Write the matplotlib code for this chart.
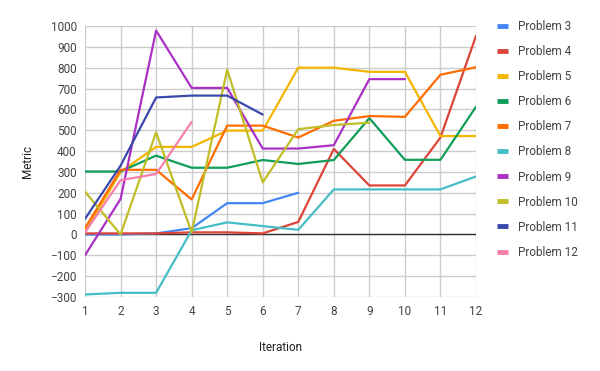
import matplotlib
matplotlib.use("Agg")
import matplotlib.pyplot as plt
import numpy as np

plt.rcParams['font.family'] = ['Roboto', 'DejaVu Sans']

iterations = list(range(1, 13))

# metric per problem, one value per iteration (None = no data)
problem_3 = [0, 0, 5, 30, 150, 150, 200]
problem_4 = [5, 5, 5, 10, 10, 5, 60, 410, 235, 235, 465, 952]
problem_5 = [10, 300, 420, 420, 498, 498, 800, 800, 780, 780, 472, 472]
problem_6 = [302, 302, 378, 320, 320, 357, 338, 357, 558, 358, 358, 612]
problem_7 = [30, 310, 310, 168, 522, 522, 465, 545, 568, 564, 766, 802]
problem_8 = [-288, -280, -280, 20, 58, 40, 22, 216, 216, 216, 216, 278]
problem_9 = [-100, 170, 978, 703, 703, 412, 412, 428, 745, 745]
problem_10 = [205, 0, 490, 10, 790, 250, 505, 525, 536]
problem_11 = [75, 330, 657, 666, 666, 575]
problem_12 = [10, 260, 290, 540]

series = {
    "Problem 3": problem_3,
    "Problem 4": problem_4,
    "Problem 5": problem_5,
    "Problem 6": problem_6,
    "Problem 7": problem_7,
    "Problem 8": problem_8,
    "Problem 9": problem_9,
    "Problem 10": problem_10,
    "Problem 11": problem_11,
    "Problem 12": problem_12,
}
colors = ["#4285f4", "#db4437", "#f4b400", "#0f9d58", "#ff6d00",
          "#46bdc6", "#ab30c4", "#c0bd27", "#3949ab", "#f77fab"]

fig = plt.figure(figsize=(6, 3.71), dpi=100)
ax = fig.add_axes([0.1417, 0.1995, 0.6516, 0.7305])

for (name, vals), c in zip(series.items(), colors):
    ax.plot(iterations[:len(vals)], vals, color=c, lw=1.6, label=name,
            solid_capstyle='round', solid_joinstyle='round')

ax.axhline(0, color="#333333", lw=1.0, zorder=1.5)

ax.set_xlim(1, 12)
ax.set_ylim(-300, 1000)
ax.set_xticks(iterations)
ax.set_yticks(np.arange(-300, 1001, 100))
ax.grid(True, color="#cccccc", lw=1.0)
ax.set_axisbelow(True)
for s in ax.spines.values():
    s.set_visible(False)
ax.tick_params(length=0, labelsize=8.5, labelcolor="#444444", pad=6)

ax.set_xlabel("Iteration", fontsize=8.5, color="#222222", labelpad=16)
ax.set_ylabel("Metric", fontsize=8.5, color="#222222", labelpad=12)

leg = ax.legend(loc="upper left", bbox_to_anchor=(0.81, 0.974),
                bbox_transform=fig.transFigure, frameon=False,
                fontsize=8.5, handlelength=1.0, handletextpad=0.8,
                labelspacing=1.02)
for line in leg.get_lines():
    line.set_linewidth(3.5)
    line.set_solid_capstyle('butt')
for t in leg.get_texts():
    t.set_color("#444444")

fig.savefig("out.png", dpi=100)
